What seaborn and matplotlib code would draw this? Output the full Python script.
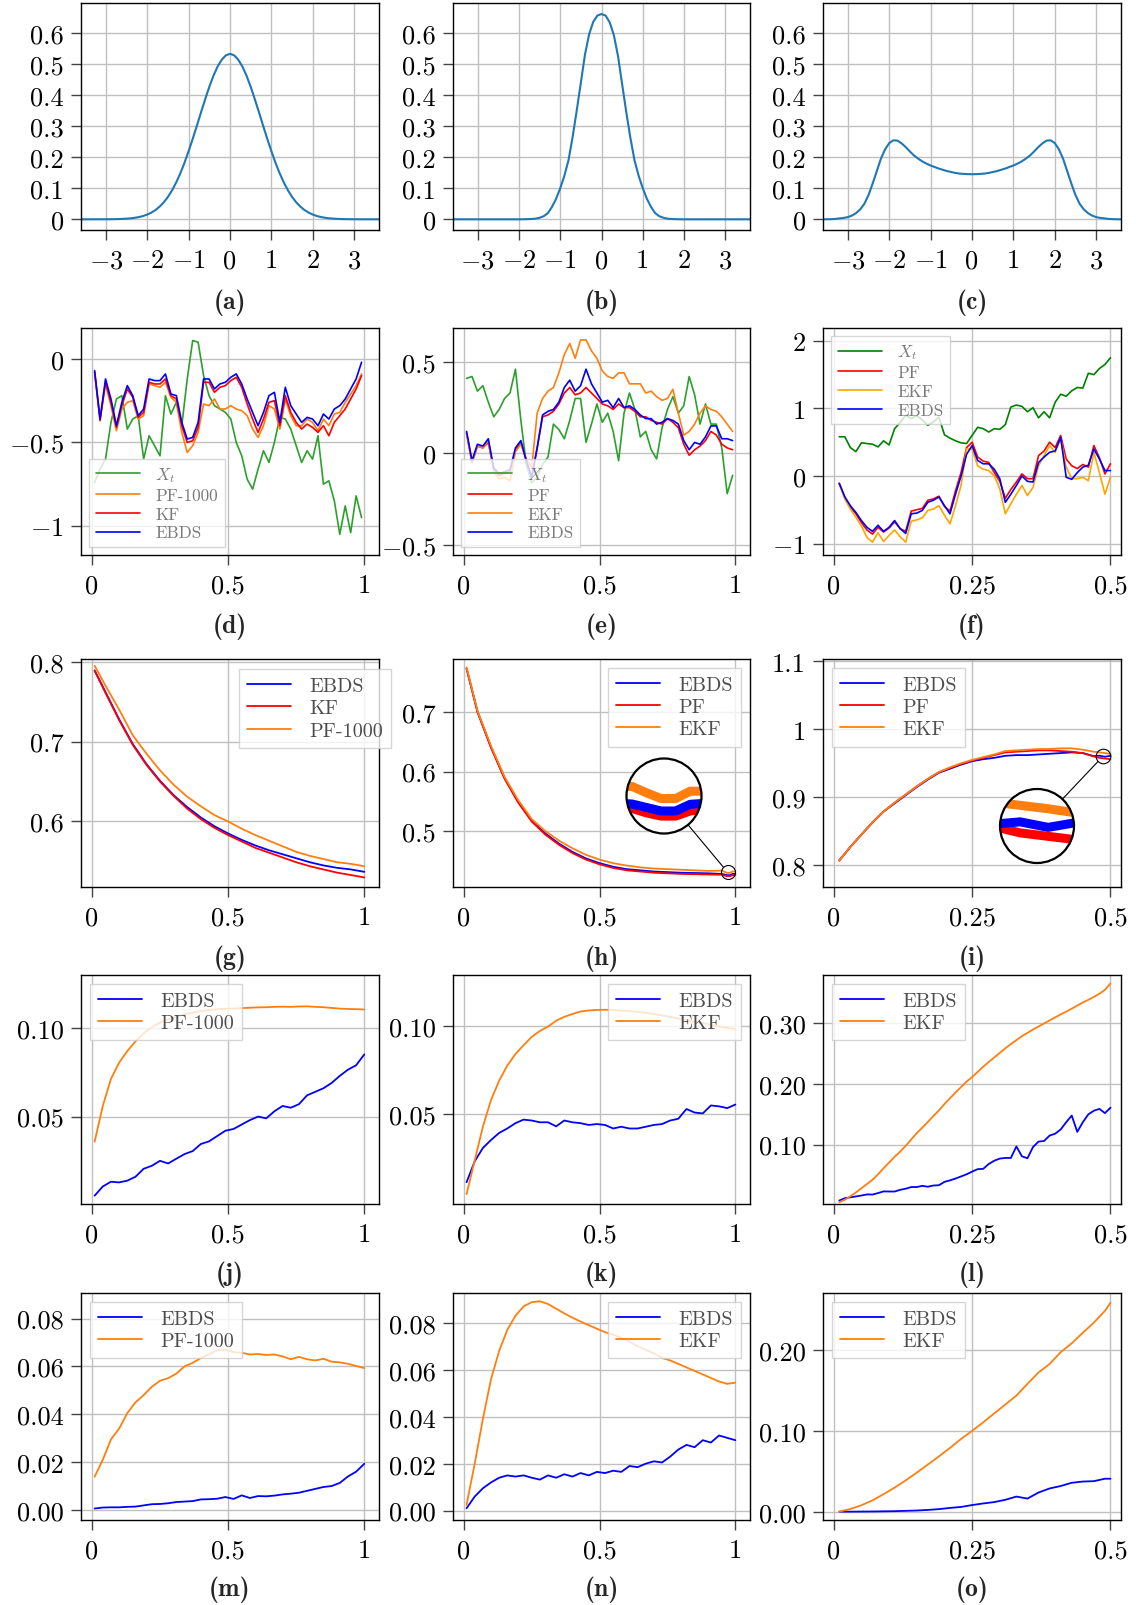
import os
import numpy as np
import matplotlib
matplotlib.use("Agg")
import matplotlib.pyplot as plt
import seaborn as sns
from matplotlib.patches import Circle, ConnectionPatch
from matplotlib.font_manager import FontProperties

# ---------------- data ----------------
# row 1: densities on a 0.1 grid
x_dens = np.round(np.arange(-3.6, 3.601, 0.1), 1)
dens_a = [0, 0, 0, 0.0001, 0.0001, 0.0001, 0.0002, 0.0003, 0.0005, 0.0008, 0.0013, 0.0021,
          0.0032, 0.0048, 0.0072, 0.0105, 0.0152, 0.0215, 0.0298, 0.0408, 0.0546, 0.072,
          0.0932, 0.1184, 0.148, 0.1815, 0.219, 0.259, 0.301, 0.3441, 0.386, 0.426, 0.4615,
          0.4911, 0.513, 0.5273, 0.532,
          0.5273, 0.513, 0.4911, 0.4615, 0.426, 0.386, 0.3441, 0.301, 0.259, 0.219, 0.1815,
          0.148, 0.1184, 0.0932, 0.072, 0.0546, 0.0408, 0.0298, 0.0215, 0.0152, 0.0105, 0.0072,
          0.0048, 0.0032, 0.0021, 0.0013, 0.0008, 0.0005, 0.0003, 0.0002, 0.0001, 0.0001,
          0.0001, 0, 0, 0]
dens_b = [0, 0, 0, 0, 0, 0, 0, 0, 0, 0, 0, 0, 0, 0, 0, 0, 0, 0.0002, 0.0005, 0.001, 0.002,
          0.005, 0.01, 0.02, 0.04, 0.066, 0.10, 0.14, 0.19, 0.265, 0.35, 0.44, 0.53, 0.595,
          0.635, 0.655, 0.66,
          0.655, 0.633, 0.592, 0.525, 0.435, 0.345, 0.262, 0.19, 0.14, 0.10, 0.066, 0.04, 0.02,
          0.01, 0.005, 0.002, 0.001, 0.0005, 0.0002, 0, 0, 0, 0, 0, 0, 0, 0, 0, 0, 0, 0, 0,
          0, 0, 0, 0]
dens_c = [0, 0.0002, 0.0005, 0.0012, 0.003, 0.0045, 0.007, 0.012, 0.02, 0.032, 0.05, 0.078,
          0.115, 0.155, 0.195, 0.225, 0.245, 0.254, 0.253, 0.244, 0.232, 0.218, 0.205, 0.195,
          0.186, 0.179, 0.173, 0.168, 0.163, 0.159, 0.155, 0.152, 0.149, 0.147, 0.146, 0.1452,
          0.145,
          0.1452, 0.146, 0.147, 0.149, 0.152, 0.155, 0.159, 0.163, 0.168, 0.173, 0.179, 0.186,
          0.195, 0.205, 0.218, 0.232, 0.244, 0.253, 0.254, 0.245, 0.225, 0.195, 0.155, 0.115,
          0.078, 0.05, 0.032, 0.02, 0.012, 0.007, 0.0045, 0.003, 0.0012, 0.0005, 0.0002, 0]

# row 2: trajectories
t_de = np.round(np.arange(0.01, 1.0, 0.02), 2)
xt_d = [-0.74, -0.66, -0.60, -0.38, -0.24, -0.22, -0.42, -0.36, -0.34, -0.60,
        -0.46, -0.52, -0.58, -0.22, -0.33, -0.26, -0.40, -0.12, 0.11, 0.10,
        -0.10, -0.22, -0.28, -0.30, -0.32, -0.36, -0.50, -0.58, -0.72, -0.78,
        -0.66, -0.55, -0.62, -0.50, -0.35, -0.36, -0.42, -0.52, -0.62, -0.55,
        -0.60, -0.46, -0.75, -0.73, -0.85, -1.05, -0.88, -1.04, -0.82, -0.95]
pf1000_d = [-0.08, -0.36, -0.15, -0.28, -0.43, -0.30, -0.26, -0.25, -0.36, -0.34,
            -0.15, -0.16, -0.17, -0.14, -0.23, -0.26, -0.44, -0.56, -0.52, -0.44,
            -0.27, -0.28, -0.24, -0.30, -0.30, -0.28, -0.30, -0.31, -0.34, -0.42,
            -0.47, -0.40, -0.28, -0.30, -0.42, -0.24, -0.34, -0.40, -0.40, -0.36,
            -0.38, -0.43, -0.36, -0.40, -0.33, -0.32, -0.26, -0.21, -0.16, -0.09]
kf_d = [-0.08, -0.37, -0.14, -0.26, -0.41, -0.28, -0.18, -0.23, -0.35, -0.32,
        -0.14, -0.15, -0.15, -0.12, -0.22, -0.24, -0.40, -0.50, -0.49, -0.41,
        -0.14, -0.14, -0.20, -0.17, -0.16, -0.13, -0.11, -0.17, -0.27, -0.36,
        -0.44, -0.36, -0.26, -0.25, -0.40, -0.22, -0.32, -0.38, -0.42, -0.39,
        -0.41, -0.44, -0.40, -0.46, -0.38, -0.34, -0.30, -0.24, -0.18, -0.10]
ebds_d = [-0.07, -0.36, -0.12, -0.24, -0.40, -0.26, -0.16, -0.22, -0.34, -0.30,
          -0.12, -0.13, -0.13, -0.09, -0.21, -0.22, -0.38, -0.48, -0.47, -0.38,
          -0.12, -0.12, -0.18, -0.15, -0.14, -0.11, -0.09, -0.15, -0.24, -0.32,
          -0.40, -0.32, -0.22, -0.20, -0.38, -0.17, -0.28, -0.33, -0.38, -0.35,
          -0.36, -0.40, -0.33, -0.36, -0.30, -0.28, -0.24, -0.18, -0.12, -0.02]

xt_e = [0.41, 0.42, 0.34, 0.37, 0.28, 0.20, 0.24, 0.30, 0.33, 0.46,
        0.18, -0.06, -0.16, -0.13, -0.06, -0.02, 0.16, 0.13, 0.08, 0.18,
        0.30, 0.30, 0.06, 0.16, 0.27, 0.17, 0.22, 0.12, -0.04, 0.22,
        0.33, 0.24, 0.09, 0.12, 0.02, -0.03, 0.14, 0.24, 0.31, 0.22,
        0.26, 0.42, 0.32, 0.16, 0.27, 0.16, 0.16, 0.03, -0.22, -0.12]
pf_e = [0.11, -0.05, 0.04, 0.03, 0.06, -0.09, -0.12, -0.11, -0.10, 0.02,
        0.06, -0.04, -0.13, 0.03, 0.20, 0.21, 0.23, 0.27, 0.33, 0.36,
        0.32, 0.33, 0.36, 0.33, 0.30, 0.27, 0.26, 0.24, 0.27, 0.25,
        0.25, 0.23, 0.20, 0.20, 0.18, 0.17, 0.16, 0.19, 0.17, 0.14,
        0.05, -0.01, 0.02, 0.04, 0.07, 0.12, 0.10, 0.05, 0.03, 0.02]
ekf_e = [0.11, -0.05, 0.04, 0.03, 0.07, -0.10, -0.14, -0.13, -0.15, 0.01,
         0.05, -0.03, -0.08, 0.22, 0.30, 0.34, 0.36, 0.44, 0.54, 0.60,
         0.52, 0.62, 0.62, 0.56, 0.52, 0.45, 0.42, 0.41, 0.44, 0.44,
         0.38, 0.38, 0.38, 0.33, 0.34, 0.31, 0.29, 0.30, 0.35, 0.22,
         0.10, 0.12, 0.16, 0.22, 0.26, 0.24, 0.23, 0.20, 0.16, 0.12]
ebds_e = [0.12, -0.04, 0.05, 0.04, 0.08, -0.08, -0.11, -0.10, -0.09, 0.03,
          0.07, -0.04, -0.13, 0.03, 0.21, 0.23, 0.24, 0.28, 0.36, 0.40,
          0.34, 0.37, 0.46, 0.38, 0.33, 0.28, 0.29, 0.25, 0.30, 0.25,
          0.26, 0.24, 0.21, 0.19, 0.19, 0.16, 0.17, 0.19, 0.18, 0.16,
          0.07, 0.02, 0.06, 0.05, 0.09, 0.15, 0.15, 0.08, 0.08, 0.07]

t_f = np.round(np.arange(0.01, 0.505, 0.01), 2)
xt_f = [0.58, 0.58, 0.42, 0.36, 0.49, 0.48, 0.47, 0.43, 0.52, 0.46,
        0.70, 0.79, 0.90, 0.85, 0.89, 0.83, 0.75, 0.80, 0.87, 0.61,
        0.56, 0.52, 0.49, 0.48, 0.60, 0.72, 0.70, 0.65, 0.70, 0.69,
        0.76, 1.02, 1.05, 1.03, 0.95, 1.01, 0.86, 0.95, 0.86, 1.09,
        1.21, 1.18, 1.26, 1.31, 1.30, 1.52, 1.50, 1.59, 1.65, 1.75]
pf_f = [-0.11, -0.32, -0.46, -0.56, -0.69, -0.80, -0.86, -0.76, -0.83, -0.77,
        -0.68, -0.78, -0.82, -0.52, -0.50, -0.48, -0.36, -0.34, -0.30, -0.45,
        -0.52, -0.22, 0.05, 0.42, 0.50, 0.28, 0.22, 0.20, 0.05, -0.08,
        -0.33, -0.20, -0.09, 0.03, -0.04, -0.04, 0.30, 0.37, 0.50, 0.42,
        0.60, 0.25, 0.15, 0.11, 0.17, 0.13, 0.45, 0.27, 0.03, 0.18]
ekf_f = [-0.12, -0.34, -0.49, -0.61, -0.74, -0.91, -0.98, -0.84, -0.97, -0.88,
         -0.80, -0.90, -0.98, -0.67, -0.65, -0.62, -0.51, -0.49, -0.44, -0.58,
         -0.71, -0.44, -0.14, 0.40, 0.40, 0.15, 0.10, 0.08, 0.0, -0.19,
         -0.56, -0.41, -0.27, -0.14, -0.29, -0.17, 0.15, 0.30, 0.45, 0.35,
         0.55, 0.13, -0.04, -0.04, -0.02, -0.07, 0.35, 0.05, -0.27, -0.02]
ebds_f = [-0.11, -0.31, -0.44, -0.54, -0.66, -0.76, -0.82, -0.73, -0.82, -0.76,
          -0.66, -0.78, -0.85, -0.56, -0.55, -0.51, -0.39, -0.36, -0.31, -0.44,
          -0.56, -0.27, 0.0, 0.32, 0.45, 0.23, 0.18, 0.18, 0.10, -0.04,
          -0.39, -0.27, -0.14, 0.0, -0.08, -0.09, 0.20, 0.28, 0.35, 0.37,
          0.57, -0.02, -0.05, 0.05, 0.13, 0.16, 0.40, 0.25, 0.08, 0.08]

# row 3
t_g = [0.01] + list(np.round(np.arange(0.05, 1.001, 0.05), 2))
ebds_g = [0.789, 0.762, 0.728, 0.697, 0.672, 0.651, 0.633, 0.618, 0.605, 0.594, 0.585,
          0.577, 0.570, 0.564, 0.559, 0.554, 0.549, 0.545, 0.542, 0.540, 0.537]
kf_g = [0.789, 0.761, 0.727, 0.696, 0.671, 0.650, 0.632, 0.616, 0.603, 0.592, 0.583,
        0.575, 0.567, 0.561, 0.555, 0.549, 0.544, 0.540, 0.536, 0.533, 0.530]
pf1000_g = [0.795, 0.770, 0.740, 0.708, 0.685, 0.664, 0.646, 0.631, 0.619, 0.608, 0.600,
            0.591, 0.583, 0.576, 0.569, 0.562, 0.557, 0.553, 0.549, 0.547, 0.544]

t_h = [0.01] + list(np.round(np.arange(0.05, 0.951, 0.05), 2)) + [0.96, 0.97, 0.98, 0.99, 1.00]
ebds_h = [0.773, 0.701, 0.641, 0.589, 0.549, 0.517, 0.496, 0.479, 0.465, 0.454, 0.446, 0.440,
          0.436, 0.434, 0.432, 0.431, 0.430, 0.4295, 0.429, 0.4280, 0.4269, 0.4258, 0.4258,
          0.4279, 0.4282]
pf_h = [0.773, 0.700, 0.640, 0.588, 0.548, 0.516, 0.494, 0.477, 0.463, 0.452, 0.444, 0.438,
        0.434, 0.432, 0.430, 0.429, 0.428, 0.4275, 0.427, 0.4266, 0.4252, 0.4242, 0.4242,
        0.4258, 0.4263]
ekf_h = [0.775, 0.702, 0.643, 0.591, 0.552, 0.520, 0.500, 0.484, 0.471, 0.460, 0.452, 0.446,
         0.442, 0.439, 0.437, 0.436, 0.435, 0.434, 0.433, 0.4335, 0.4315, 0.4297, 0.4297,
         0.432, 0.432]

t_i = list(np.round(np.arange(0.01, 0.471, 0.02), 2)) + [0.48, 0.49, 0.50]
ebds_i = [0.807, 0.827, 0.845, 0.863, 0.879, 0.891, 0.903, 0.915, 0.926, 0.936, 0.942, 0.948,
          0.953, 0.956, 0.958, 0.961, 0.962, 0.962, 0.963, 0.964, 0.965, 0.966, 0.965, 0.9605,
          0.9612, 0.9596, 0.961]
pf_i = [0.807, 0.827, 0.845, 0.863, 0.879, 0.892, 0.904, 0.916, 0.927, 0.937, 0.943, 0.949,
        0.954, 0.958, 0.962, 0.966, 0.967, 0.968, 0.969, 0.969, 0.968, 0.967, 0.965, 0.960,
        0.958, 0.957, 0.956]
ekf_i = [0.807, 0.827, 0.845, 0.863, 0.879, 0.892, 0.904, 0.916, 0.927, 0.937, 0.944, 0.950,
         0.955, 0.959, 0.963, 0.968, 0.969, 0.970, 0.971, 0.971, 0.972, 0.972, 0.970, 0.967,
         0.966, 0.965, 0.9638]

# rows 4-5 (errors)
t_jk = np.round(np.arange(0.01, 1.001, 0.03), 2)
ebds_j = [0.0053, 0.0105, 0.0132, 0.0128, 0.0138, 0.0160, 0.0205, 0.0222, 0.0250, 0.0235,
          0.0262, 0.0288, 0.0305, 0.0345, 0.0360, 0.0390, 0.0420, 0.0430, 0.0455, 0.0480,
          0.0500, 0.0490, 0.0530, 0.0560, 0.0550, 0.0570, 0.0620, 0.0640, 0.0660, 0.0690,
          0.0730, 0.0765, 0.0790, 0.0851]
pf1000_j = [0.0358, 0.0560, 0.0713, 0.0805, 0.0870, 0.0925, 0.0970, 0.1005, 0.1030, 0.1050,
            0.1065, 0.1078, 0.1088, 0.1096, 0.1102, 0.1106, 0.1109, 0.1111, 0.1113, 0.1115,
            0.1117, 0.1118, 0.1120, 0.1121, 0.1120, 0.1122, 0.1123, 0.1120, 0.1118, 0.1114,
            0.1110, 0.1108, 0.1107, 0.1105]
ebds_k = [0.0117, 0.0235, 0.0310, 0.0355, 0.0395, 0.0420, 0.0450, 0.0470, 0.0465, 0.0455,
          0.0455, 0.0432, 0.0465, 0.0455, 0.0450, 0.0440, 0.0445, 0.0440, 0.0420, 0.0430,
          0.0420, 0.0420, 0.0430, 0.0440, 0.0445, 0.0465, 0.0475, 0.0530, 0.0510, 0.0505,
          0.0550, 0.0545, 0.0535, 0.0555]
ekf_k = [0.0050, 0.0240, 0.0430, 0.0580, 0.0690, 0.0775, 0.0840, 0.0890, 0.0937, 0.0970,
         0.0995, 0.1028, 0.1050, 0.1066, 0.1080, 0.1086, 0.1089, 0.1090, 0.1088, 0.1085,
         0.1082, 0.1078, 0.1073, 0.1066, 0.1058, 0.1050, 0.1040, 0.1030, 0.1021, 0.1015,
         0.1005, 0.0995, 0.0988, 0.0981]

t_l = np.round(np.arange(0.01, 0.505, 0.01), 2)
ebds_l = [0.0077, 0.0116, 0.0130, 0.0145, 0.0160, 0.0178, 0.0176, 0.0200, 0.0228, 0.0226,
          0.0226, 0.0254, 0.0272, 0.0300, 0.0300, 0.0320, 0.0305, 0.0325, 0.0330, 0.0385,
          0.0410, 0.0440, 0.0475, 0.0510, 0.0555, 0.0595, 0.0600, 0.0680, 0.0735, 0.0770,
          0.0780, 0.0780, 0.0970, 0.0807, 0.0775, 0.0960, 0.1050, 0.1060, 0.1150, 0.1180,
          0.1250, 0.1370, 0.1480, 0.1210, 0.1370, 0.1500, 0.1560, 0.1590, 0.1520, 0.1610]
ekf_l = [0.0050, 0.0090, 0.0148, 0.0210, 0.0280, 0.0350, 0.0420, 0.0510, 0.0610, 0.0705,
         0.0800, 0.0885, 0.0980, 0.1085, 0.1190, 0.1280, 0.1375, 0.1470, 0.1565, 0.1670,
         0.1765, 0.1860, 0.1950, 0.2040, 0.2115, 0.2200, 0.2285, 0.2365, 0.2440, 0.2515,
         0.2590, 0.2660, 0.2725, 0.2790, 0.2845, 0.2900, 0.2950, 0.3000, 0.3050, 0.3100,
         0.3150, 0.3195, 0.3245, 0.3295, 0.3345, 0.3390, 0.3440, 0.3490, 0.3555, 0.3660]

ebds_m = [0.0006, 0.0010, 0.0011, 0.0011, 0.0013, 0.0014, 0.0019, 0.0024, 0.0025, 0.0028,
          0.0033, 0.0035, 0.0037, 0.0044, 0.0045, 0.0047, 0.0054, 0.0046, 0.0061, 0.0050,
          0.0058, 0.0057, 0.0060, 0.0065, 0.0068, 0.0072, 0.0080, 0.0088, 0.0096, 0.0100,
          0.0113, 0.0140, 0.0160, 0.0193]
pf1000_m = [0.0139, 0.0210, 0.0295, 0.0340, 0.0405, 0.0450, 0.0480, 0.0515, 0.0540, 0.0551,
            0.0570, 0.0600, 0.0615, 0.0635, 0.0650, 0.0668, 0.0670, 0.0660, 0.0657, 0.0650,
            0.0652, 0.0648, 0.0650, 0.0642, 0.0630, 0.0640, 0.0630, 0.0625, 0.0632, 0.0620,
            0.0617, 0.0611, 0.0602, 0.0593]
ebds_n = [0.0010, 0.0060, 0.0095, 0.0120, 0.0140, 0.0150, 0.0145, 0.0150, 0.0140, 0.0132,
          0.0150, 0.0140, 0.0155, 0.0145, 0.0160, 0.0150, 0.0165, 0.0160, 0.0170, 0.0165,
          0.0190, 0.0185, 0.0200, 0.0210, 0.0205, 0.0230, 0.0260, 0.0280, 0.0270, 0.0300,
          0.0290, 0.0320, 0.0310, 0.0300]
ekf_n = [0.0025, 0.0200, 0.0390, 0.0560, 0.0680, 0.0770, 0.0830, 0.0870, 0.0888, 0.0892,
         0.0880, 0.0860, 0.0840, 0.0822, 0.0805, 0.0790, 0.0775, 0.0760, 0.0750, 0.0735,
         0.0720, 0.0700, 0.0685, 0.0670, 0.0650, 0.0640, 0.0625, 0.0610, 0.0595, 0.0580,
         0.0565, 0.0550, 0.0540, 0.0545]

t_o = list(np.round(np.arange(0.01, 0.491, 0.02), 2)) + [0.50]
ebds_o = [0.0004, 0.0004, 0.0005, 0.0006, 0.0008, 0.0010, 0.0014, 0.0018, 0.0025, 0.0035,
          0.0050, 0.0062, 0.0085, 0.0105, 0.0122, 0.0150, 0.0190, 0.0165, 0.0240, 0.0290,
          0.0320, 0.0360, 0.0375, 0.0380, 0.0410, 0.0410]
ekf_o = [0.0004, 0.0037, 0.0083, 0.0143, 0.0220, 0.0300, 0.0390, 0.0485, 0.0585, 0.0685,
         0.0790, 0.0900, 0.1000, 0.1105, 0.1215, 0.1325, 0.1435, 0.1580, 0.1720, 0.1825,
         0.1970, 0.2080, 0.2210, 0.2335, 0.2480, 0.2580]

captions = ["(a)", "(b)", "(c)", "(d)", "(e)", "(f)", "(g)", "(h)", "(i)",
            "(j)", "(k)", "(l)", "(m)", "(n)", "(o)"]

# ---------------- style ----------------
sns.set_theme(style="whitegrid", rc={"axes.edgecolor": "black", "grid.color": "#c0c0c0"})
plt.rcParams["font.family"] = ["cmr10"]
plt.rcParams["mathtext.fontset"] = "cm"
plt.rcParams["axes.unicode_minus"] = False

ttf_dir = os.path.join(matplotlib.get_data_path(), "fonts", "ttf")
bold_font = FontProperties(fname=os.path.join(ttf_dir, "cmb10.ttf"), size=18.5)

BLUE, RED, ORANGE = "blue", "red", "#ff7f0e"
TICK_FS = 19
W, H = 1136, 1606
COL_L = [81, 453, 823]
COL_R = [379, 750, 1121]
ROW_T = [4, 329, 660, 976, 1294]
ROW_B = [231, 556, 888, 1205, 1521]
CAP_Y = [303, 627, 959, 1275, 1590]

fig = plt.figure(figsize=(W / 100, H / 100), dpi=100)


def px_rect(l, t, r, b):
    return [l / W, 1 - b / H, (r - l) / W, (b - t) / H]


def make_ax(row, col, xlim, ylim, xt, xl, yt, yl):
    ax = fig.add_axes(px_rect(COL_L[col], ROW_T[row], COL_R[col], ROW_B[row]))
    ax.set_xlim(xlim)
    ax.set_ylim(ylim)
    ax.set_xticks(xt, xl)
    ax.set_yticks(yt, yl)
    ax.grid(True, color="#c0c0c0", lw=1.0)
    ax.set_axisbelow(True)
    ax.tick_params(axis="both", direction="out", length=7.5, width=1.0, color="#444444",
                   labelsize=TICK_FS, left=True, bottom=True, labelcolor="black")
    ax.tick_params(axis="x", pad=6)
    ax.tick_params(axis="y", pad=5)
    for s in ax.spines.values():
        s.set_color("black")
        s.set_linewidth(1.0)
    fig.text((COL_L[col] + COL_R[col]) / 2 / W, 1 - CAP_Y[row] / H, captions[row * 3 + col],
             ha="center", va="center", fontproperties=bold_font)
    return ax


def draw(ax, t, series, lw=1.3):
    for vals, color, label in series:
        sns.lineplot(x=t, y=vals, ax=ax, color=color, label=label, linewidth=lw)
    ax.set_xlabel("")
    ax.set_ylabel("")


def legend(ax, loc, fs, tc, hl, anchor=None):
    kw = {}
    if anchor is not None:
        kw["bbox_to_anchor"] = anchor
    leg = ax.legend(loc=loc, fontsize=fs, frameon=True, fancybox=False, framealpha=0.8,
                    edgecolor="#cccccc", labelcolor=tc, handlelength=hl, handletextpad=0.9,
                    labelspacing=0.2, borderpad=0.4, borderaxespad=0.45, **kw)
    leg.get_frame().set_linewidth(1.0)


def zoom_circle(ax, t, series, center, r_small, big_c, r_big, lw=6.5):
    axin = fig.add_axes(px_rect(big_c[0] - r_big, big_c[1] - r_big,
                                big_c[0] + r_big, big_c[1] + r_big))
    pos = ax.get_position()
    x0, x1 = ax.get_xlim()
    y0, y1 = ax.get_ylim()
    rx = r_small * (x1 - x0) / (pos.width * W)
    ry = r_small * (y1 - y0) / (pos.height * H)
    axin.add_patch(Circle((0.5, 0.5), 0.5, transform=axin.transAxes, fc="white", ec="none", zorder=0))
    clip = Circle((0.5, 0.5), 0.5, transform=axin.transAxes)
    for vals, color in series:
        sns.lineplot(x=t, y=vals, ax=axin, color=color, linewidth=lw, legend=False)
    for ln in axin.lines:
        ln.set_clip_path(clip)
        ln.set_solid_capstyle("butt")
    axin.set_xlim(center[0] - rx, center[0] + rx)
    axin.set_ylim(center[1] - ry, center[1] + ry)
    axin.axis("off")
    axin.add_patch(Circle((0.5, 0.5), 0.5, transform=axin.transAxes, fill=False, ec="black",
                          lw=1.6, zorder=5, clip_on=False))
    ax.plot([center[0]], [center[1]], marker="o", ms=2 * r_small * 0.72, mfc="none",
            mec="black", mew=0.8, zorder=5)
    con = ConnectionPatch(xyA=(0.5, 0.5), coordsA=axin.transAxes, xyB=center,
                          coordsB=ax.transData, shrinkA=r_big * 0.72, shrinkB=r_small * 0.72,
                          color="black", lw=0.8)
    fig.add_artist(con)


# ---------------- row 1 ----------------
xt1 = [-3, -2, -1, 0, 1, 2, 3]
xl1 = ["$-3$", "$-2$", "$-1$", "0", "1", "2", "3"]
yt1 = [0, 0.1, 0.2, 0.3, 0.4, 0.5, 0.6]
yl1 = ["0", "0.1", "0.2", "0.3", "0.4", "0.5", "0.6"]
for col, dens in enumerate([dens_a, dens_b, dens_c]):
    ax = make_ax(0, col, (-3.6, 3.6), (-0.0344, 0.6955), xt1, xl1, yt1, yl1)
    sns.lineplot(x=x_dens, y=dens, ax=ax, color="#1f77b4", linewidth=1.5)
    ax.set_xlabel("")
    ax.set_ylabel("")

# ---------------- row 2 ----------------
XL_A = (-0.04, 1.054)
XL_B = (-0.0194, 0.519)
xt_a, xl_a = [0, 0.5, 1], ["0", "0.5", "1"]
xt_b, xl_b = [0, 0.25, 0.5], ["0", "0.25", "0.5"]
LEG2 = "#7a7a7a"
LEG = "#4d4d4d"
FS2 = 12.3
FS3 = 14.5

ax = make_ax(1, 0, XL_A, (-1.174, 0.185), xt_a, xl_a, [-1, -0.5, 0], ["$-1$", "$-0.5$", "0"])
draw(ax, t_de, [(xt_d, "#2ca02c", "$X_t$"), (pf1000_d, ORANGE, "PF-1000"),
                (kf_d, RED, "KF"), (ebds_d, BLUE, "EBDS")], lw=1.2)
legend(ax, "lower left", FS2, LEG2, 2.6)

ax = make_ax(1, 1, XL_A, (-0.555, 0.685), xt_a, xl_a, [-0.5, 0, 0.5], ["$-0.5$", "0", "0.5"])
draw(ax, t_de, [(xt_e, "#2ca02c", "$X_t$"), (pf_e, RED, "PF"),
                (ekf_e, ORANGE, "EKF"), (ebds_e, BLUE, "EBDS")], lw=1.2)
legend(ax, "lower left", FS2, LEG2, 2.6)

ax = make_ax(1, 2, XL_B, (-1.17, 2.19), xt_b, xl_b, [-1, 0, 1, 2], ["$-1$", "0", "1", "2"])
draw(ax, t_f, [(xt_f, "green", "$X_t$"), (pf_f, RED, "PF"),
               (ekf_f, "orange", "EKF"), (ebds_f, BLUE, "EBDS")], lw=1.2)
legend(ax, "upper left", FS2, LEG2, 2.6)

# ---------------- row 3 ----------------
ax = make_ax(2, 0, XL_A, (0.518, 0.8034), xt_a, xl_a, [0.6, 0.7, 0.8], ["0.6", "0.7", "0.8"])
draw(ax, t_g, [(ebds_g, BLUE, "EBDS"), (kf_g, RED, "KF"), (pf1000_g, ORANGE, "PF-1000")])
legend(ax, "upper right", FS3, LEG, 2.2, anchor=(1.07, 0.995))

ax = make_ax(2, 1, XL_A, (0.406, 0.789), xt_a, xl_a, [0.5, 0.6, 0.7], ["0.5", "0.6", "0.7"])
draw(ax, t_h, [(ebds_h, BLUE, "EBDS"), (pf_h, RED, "PF"), (ekf_h, ORANGE, "EKF")])
legend(ax, "upper right", FS3, LEG, 2.2)
zoom_circle(ax, t_h, [(pf_h, RED), (ebds_h, BLUE), (ekf_h, ORANGE)],
            (0.972, 0.4305), 7.0, (664, 797), 37.5)

ax = make_ax(2, 2, XL_B, (0.768, 1.1034), xt_b, xl_b, [0.8, 0.9, 1.0, 1.1],
             ["0.8", "0.9", "1", "1.1"])
draw(ax, t_i, [(ebds_i, BLUE, "EBDS"), (pf_i, RED, "PF"), (ekf_i, ORANGE, "EKF")])
legend(ax, "upper left", FS3, LEG, 2.2)
zoom_circle(ax, t_i, [(pf_i, RED), (ebds_i, BLUE), (ekf_i, ORANGE)],
            (0.486, 0.960), 7.3, (1037, 827), 37.0)

# ---------------- row 4 ----------------
ax = make_ax(3, 0, XL_A, (0.0006, 0.130), xt_a, xl_a, [0.05, 0.10], ["0.05", "0.10"])
draw(ax, t_jk, [(ebds_j, BLUE, "EBDS"), (pf1000_j, ORANGE, "PF-1000")])
legend(ax, "upper left", FS3, LEG, 2.2)

ax = make_ax(3, 1, XL_A, (-0.0006, 0.1286), xt_a, xl_a, [0.05, 0.10], ["0.05", "0.10"])
draw(ax, t_jk, [(ebds_k, BLUE, "EBDS"), (ekf_k, ORANGE, "EKF")])
legend(ax, "upper right", FS3, LEG, 2.2)

ax = make_ax(3, 2, XL_B, (0.002, 0.380), xt_b, xl_b, [0.10, 0.20, 0.30], ["0.10", "0.20", "0.30"])
draw(ax, t_l, [(ebds_l, BLUE, "EBDS"), (ekf_l, ORANGE, "EKF")])
legend(ax, "upper left", FS3, LEG, 2.2)

# ---------------- row 5 ----------------
yt5 = [0, 0.02, 0.04, 0.06, 0.08]
yl5 = ["0.00", "0.02", "0.04", "0.06", "0.08"]
ax = make_ax(4, 0, XL_A, (-0.0042, 0.0907), xt_a, xl_a, yt5, yl5)
draw(ax, t_jk, [(ebds_m, BLUE, "EBDS"), (pf1000_m, ORANGE, "PF-1000")])
legend(ax, "upper left", FS3, LEG, 2.2)

ax = make_ax(4, 1, XL_A, (-0.004, 0.0927), xt_a, xl_a, yt5, yl5)
draw(ax, t_jk, [(ebds_n, BLUE, "EBDS"), (ekf_n, ORANGE, "EKF")])
legend(ax, "upper right", FS3, LEG, 2.2)

ax = make_ax(4, 2, XL_B, (-0.0099, 0.270), xt_b, xl_b, [0, 0.10, 0.20], ["0.00", "0.10", "0.20"])
draw(ax, t_o, [(ebds_o, BLUE, "EBDS"), (ekf_o, ORANGE, "EKF")])
legend(ax, "upper left", FS3, LEG, 2.2)

fig.savefig("out.png", dpi=100)
